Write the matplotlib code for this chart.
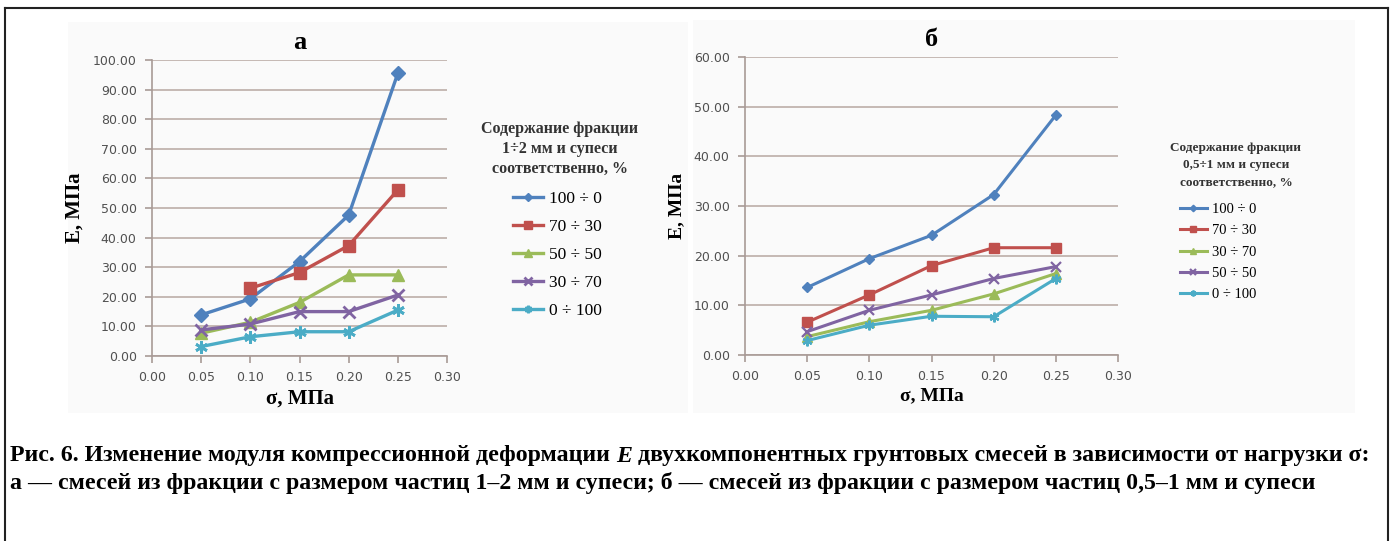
import numpy as np
import matplotlib
matplotlib.use("Agg")
import matplotlib.pyplot as plt
from matplotlib.lines import Line2D
from matplotlib.patches import Rectangle

# --- Data ---
sigma = [0.05, 0.10, 0.15, 0.20, 0.25]

# chart a: fraction 1-2 mm + sandy loam
a_labels = ["100 ÷ 0", "70 ÷ 30", "50 ÷ 50", "30 ÷ 70", "0 ÷ 100"]
a_100_0 = [13.9, 19.3, 31.9, 47.6, 95.5]
a_70_30 = [np.nan, 22.9, 28.2, 37.3, 56.1]
a_50_50 = [7.7, 11.4, 18.1, 27.4, 27.4]
a_30_70 = [8.8, 10.8, 15.0, 15.0, 20.6]
a_0_100 = [3.2, 6.5, 8.2, 8.2, 15.5]

# chart b: fraction 0.5-1 mm + sandy loam
b_labels = ["100 ÷ 0", "70 ÷ 30", "30 ÷ 70", "50 ÷ 50", "0 ÷ 100"]
b_100_0 = [13.6, 19.4, 24.1, 32.3, 48.3]
b_70_30 = [6.6, 12.1, 18.0, 21.6, 21.6]
b_30_70 = [3.7, 6.7, 9.0, 12.3, 16.4]
b_50_50 = [4.7, 9.0, 12.1, 15.4, 17.8]
b_0_100 = [2.9, 6.0, 7.8, 7.7, 15.4]

x_ticks = [0.00, 0.05, 0.10, 0.15, 0.20, 0.25, 0.30]
a_yticks = np.arange(0, 101, 10)
b_yticks = np.arange(0, 61, 10)

colors = ["#4F81BD", "#C0504D", "#9BBB59", "#8064A2", "#4BACC6"]
markers = ["D", "s", "^", "x", (6, 2, 0)]

W, H = 1391, 541
fig = plt.figure(figsize=(W / 100, H / 100), dpi=100)
fig.patch.set_facecolor("white")


def px(x0, y0, x1, y1):
    # pixel box (top-left origin) -> figure fraction rect
    return [x0 / W, 1 - y1 / H, (x1 - x0) / W, (y1 - y0) / H]


def fy(y):
    return 1 - y / H


# faint scanned background behind the two chart images
for bx0, by0, bx1, by1 in [(68, 22, 688, 413), (693, 20, 1355, 413)]:
    fig.patches.append(Rectangle((bx0 / W, fy(by1)), (bx1 - bx0) / W, (by1 - by0) / H,
                                 transform=fig.transFigure, facecolor="#fafafa",
                                 edgecolor="none", zorder=-5))

# frame of the figure
for xs, ys in [([5, 5], [8, H]), ([5, 1388], [8, 8]), ([1388, 1388], [8, H])]:
    fig.lines.append(Line2D([x / W for x in xs], [fy(y) for y in ys],
                            transform=fig.transFigure, color="#222222", lw=1.5, zorder=-4))

serif = "Liberation Serif"
grid_c = "#bcaea8"
spine_c = "#a89a96"


def setup(ax, yticks, ymax, title, fs_lab):
    ax.set_facecolor("none")
    ax.set_xlim(0, 0.30)
    ax.set_ylim(0, ymax)
    ax.set_xticks(x_ticks)
    ax.set_yticks(yticks)
    ax.xaxis.set_major_formatter(matplotlib.ticker.FormatStrFormatter("%.2f"))
    ax.yaxis.set_major_formatter(matplotlib.ticker.FormatStrFormatter("%.2f"))
    ax.grid(axis="y", color=grid_c, lw=1.2)
    ax.set_axisbelow(True)
    for s in ["top", "right"]:
        ax.spines[s].set_visible(False)
    for s in ["left", "bottom"]:
        ax.spines[s].set_color(spine_c)
        ax.spines[s].set_linewidth(1.2)
    ax.tick_params(axis="both", colors=spine_c, length=5, width=1.2,
                   labelcolor="#505050", labelsize=9, pad=6)
    ax.set_title(title, fontfamily=serif, fontweight="bold", fontsize=19, pad=8)
    ax.set_xlabel("σ, МПа", fontfamily=serif, fontweight="bold", fontsize=fs_lab, labelpad=3)
    ax.set_ylabel("Е, МПа", fontfamily=serif, fontweight="bold", fontsize=fs_lab, labelpad=6)


# --- chart a ---
ax1 = fig.add_axes(px(152, 60, 447, 356))
setup(ax1, a_yticks, 100, "а", 15)
for ys, lab, c, m in zip([a_100_0, a_70_30, a_50_50, a_30_70, a_0_100],
                         a_labels, colors, markers):
    ms = 9 if m != "D" else 7
    ax1.plot(sigma, ys, color=c, lw=2.4, marker=m, ms=ms, mew=2 if m in ("x", (6, 2, 0)) else 1,
             label=lab)
ax1.legend(loc="upper left", bbox_to_anchor=(513 / W, fy(191)),
           bbox_transform=fig.transFigure, frameon=False, borderpad=0, borderaxespad=0,
           prop={"family": serif, "size": 12.5}, handlelength=1.75,
           handletextpad=0.3, labelspacing=0.68, markerscale=0.6)
fig.text(560 / W, fy(149), "Содержание фракции\n1÷2 мм и супеси\nсоответственно, %",
         ha="center", va="center", multialignment="center", linespacing=1.35,
         fontfamily=serif, fontweight="bold", fontsize=11.5, color="#333333")

# --- chart b ---
ax2 = fig.add_axes(px(745, 57, 1118, 355))
setup(ax2, b_yticks, 60, "б", 14)
for ys, lab, c, m in zip([b_100_0, b_70_30, b_30_70, b_50_50, b_0_100],
                         b_labels, colors, markers):
    ms = 7 if m != "D" else 5.5
    ax2.plot(sigma, ys, color=c, lw=2.2, marker=m, ms=ms, mew=1.6 if m in ("x", (6, 2, 0)) else 1,
             label=lab)
ax2.legend(loc="upper left", bbox_to_anchor=(1180 / W, fy(203)),
           bbox_transform=fig.transFigure, frameon=False, borderpad=0, borderaxespad=0,
           prop={"family": serif, "size": 10.5}, handlelength=1.85,
           handletextpad=0.35, labelspacing=0.55, markerscale=0.6)
fig.text(1236 / W, fy(165), "Содержание фракции\n0,5÷1 мм и супеси\nсоответственно, %",
         ha="center", va="center", multialignment="center", linespacing=1.6,
         fontfamily=serif, fontweight="bold", fontsize=9.5, color="#333333")

# --- caption (italic E placed after measuring the preceding piece) ---
cap_fs = 17.2
cap = dict(fontfamily=serif, fontweight="bold", fontsize=cap_fs, va="center", ha="left")
y1, y2 = fy(456), fy(483)
t1 = fig.text(10 / W, y1, "Рис. 6. Изменение модуля компрессионной деформации ", **cap)
fig.canvas.draw()
r = fig.canvas.get_renderer()
x_e = t1.get_window_extent(r).x1 / W
t2 = fig.text(x_e, y1, "E", fontstyle="italic", **cap)
fig.canvas.draw()
x_rest = t2.get_window_extent(r).x1 / W
fig.text(x_rest, y1, " двухкомпонентных грунтовых смесей в зависимости от нагрузки σ:", **cap)
fig.text(10 / W, y2, "а — смесей из фракции с размером частиц 1–2 мм и супеси; "
         "б — смесей из фракции с размером частиц 0,5–1 мм и супеси", **cap)

fig.savefig("out.png", dpi=100, facecolor="white")
